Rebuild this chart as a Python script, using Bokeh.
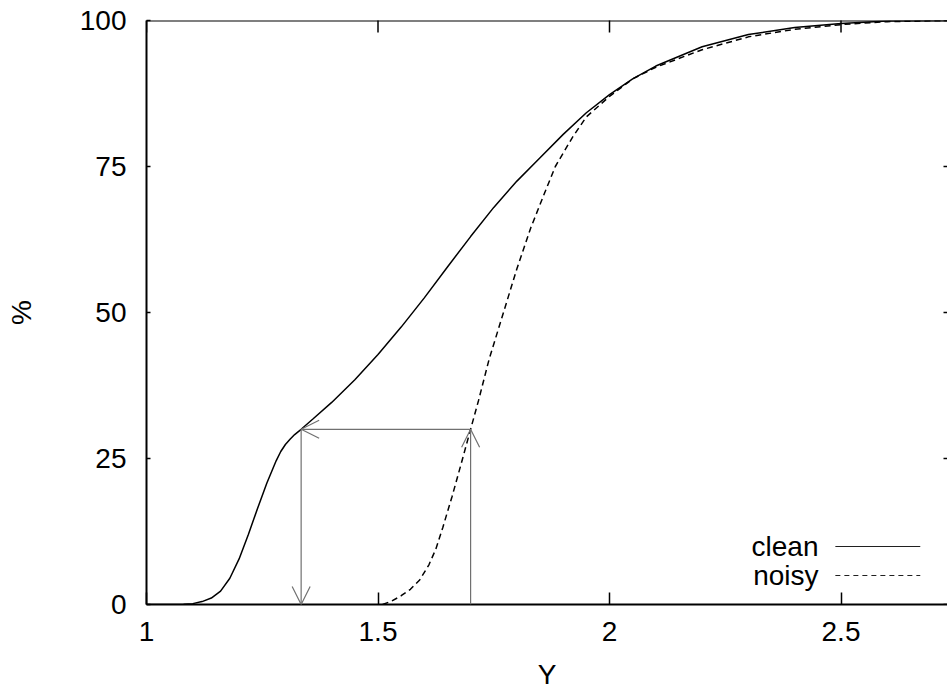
import math
from bokeh.plotting import figure
from bokeh.models import (Range1d, FixedTicker, Arrow, OpenHead, Label, Span,
                          ColumnDataSource)
from bokeh.embed import file_html
from bokeh.resources import INLINE

# ---- data ----
clean_x = [1.00, 1.08, 1.10, 1.12, 1.14, 1.16, 1.18, 1.20, 1.22, 1.24, 1.26,
           1.28, 1.29, 1.30, 1.31, 1.32, 1.334, 1.36, 1.40, 1.45, 1.50, 1.55,
           1.60, 1.65, 1.70, 1.75, 1.80, 1.85, 1.90, 1.95, 2.00, 2.05, 2.10,
           2.20, 2.30, 2.40, 2.50, 2.60, 2.73]
clean_y = [0.0, 0.05, 0.15, 0.5, 1.1, 2.3, 4.5, 7.8, 12.0, 16.5, 20.8,
           24.6, 26.2, 27.4, 28.3, 29.1, 30.0, 31.8, 34.6, 38.5, 42.8, 47.5,
           52.5, 57.8, 63.0, 68.0, 72.5, 76.5, 80.5, 84.2, 87.3, 90.0, 92.2,
           95.5, 97.6, 98.8, 99.5, 99.9, 100.0]

noisy_x = [1.51, 1.53, 1.55, 1.57, 1.59, 1.61, 1.625, 1.64, 1.66, 1.68,
           1.70, 1.717, 1.74, 1.771, 1.80, 1.83, 1.86, 1.883, 1.92, 1.95,
           2.00, 2.05, 2.10, 2.20, 2.30, 2.40, 2.50, 2.60, 2.73]
noisy_y = [0.0, 0.6, 1.5, 2.6, 4.2, 6.8, 9.5, 13.2, 18.5, 24.2,
           30.0, 34.9, 42.0, 50.0, 57.5, 64.5, 70.5, 75.0, 80.0, 83.5,
           87.0, 90.0, 92.0, 95.0, 97.2, 98.5, 99.3, 99.8, 100.0]

x_ticks = [1, 1.5, 2, 2.5]
x_tick_labels = ["1", "1.5", "2", "2.5"]
y_ticks = [0, 25, 50, 75, 100]

arrow_x0 = [1.70, 1.70, 1.334]
arrow_y0 = [0, 30, 30]
arrow_x1 = [1.70, 1.334, 1.334]
arrow_y1 = [30, 30, 0]

series_names = ["clean", "noisy"]

FONT = "Liberation Sans"
GRAY = "#707070"
X0, X1 = 1.0, 2.730
Y0, Y1 = 0, 100
FRAME_H = 584

p = figure(width=947, height=693,
           x_range=Range1d(X0, X1), y_range=Range1d(Y0, Y1),
           output_backend="svg", toolbar_location=None,
           min_border_left=146, min_border_right=0,
           min_border_top=20, min_border_bottom=89)
p.outline_line_color = None
p.grid.visible = False
p.background_fill_color = "white"
p.border_fill_color = "white"

xa = p.xaxis[0]
ya = p.yaxis[0]
for ax in (xa, ya):
    ax.axis_line_width = 2
    ax.axis_line_color = "black"
    ax.major_tick_line_color = "black"
    ax.major_tick_line_width = 1.5
    ax.major_tick_out = 0
    ax.minor_tick_in = 0
    ax.minor_tick_out = 0
    ax.major_label_text_font = FONT
    ax.major_label_text_font_size = "28px"
    ax.major_label_text_color = "black"
    ax.axis_label_text_font = FONT
    ax.axis_label_text_font_size = "28px"
    ax.axis_label_text_font_style = "normal"
    ax.axis_label_text_color = "black"

xa.ticker = FixedTicker(ticks=x_ticks)
xa.major_label_overrides = {float(t): l for t, l in zip(x_ticks, x_tick_labels)}
xa.major_tick_in = 12
xa.major_label_standoff = 17
xa.axis_label = "Y"
xa.axis_label_standoff = 15

ya.ticker = FixedTicker(ticks=y_ticks)
ya.major_tick_in = 4
ya.major_label_standoff = 20
ya.axis_label = "%"
ya.axis_label_standoff = 40

# top border and mirrored ticks (clipped to the frame)
p.add_layout(Span(location=Y1, dimension="width", line_color="black", line_width=2))
p.scatter(x=x_ticks, y=[Y1] * len(x_ticks), marker="dash", angle=math.pi / 2,
          size=24, line_color="black", line_width=1.5)
p.scatter(x=[X1] * len(y_ticks), y=y_ticks, marker="dash",
          size=8, line_color="black", line_width=1.5)

# curves
p.line(clean_x, clean_y, line_color="black", line_width=1.5)
p.line(noisy_x, noisy_y, line_color="black", line_width=1.5, line_dash="6 4")

# arrows
arr_src = ColumnDataSource(dict(x0=arrow_x0, y0=arrow_y0, x1=arrow_x1, y1=arrow_y1))
p.add_layout(Arrow(source=arr_src, x_start="x0", y_start="y0", x_end="x1", y_end="y1",
                   line_color=GRAY, line_width=1.2,
                   end=OpenHead(size=18, line_color=GRAY, line_width=1.2)))

# gnuplot-style key: text on the left, sample line on the right
key_fx = (0.860, 0.966)          # fraction of the frame width
key_fy = (0.0993, 0.0497)        # fraction of the frame height
key_dash = ["solid", "5 4"]
for name, fy, dash in zip(series_names, key_fy, key_dash):
    yy = Y0 + fy * (Y1 - Y0)
    p.line([X0 + key_fx[0] * (X1 - X0), X0 + key_fx[1] * (X1 - X0)], [yy, yy],
           line_color="#202020", line_width=1.2, line_dash=dash)
    p.add_layout(Label(x=672, y=fy * FRAME_H, x_units="screen", y_units="screen",
                       text=name, text_align="right", text_baseline="middle",
                       text_font=FONT, text_font_size="28px", text_color="black"))

open("out.html", "w").write(file_html(p, INLINE))
